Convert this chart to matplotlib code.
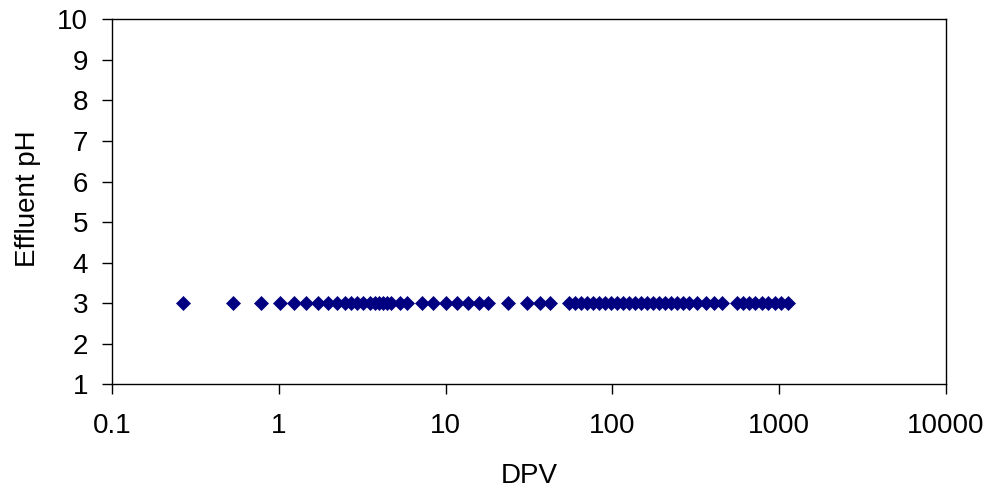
import matplotlib
matplotlib.use("Agg")
import matplotlib.pyplot as plt
from matplotlib.ticker import FixedLocator, NullLocator

plt.rcParams["font.family"] = ["Liberation Sans", "DejaVu Sans"]

# DPV values; every sample sits at effluent pH 3
dpv = [0.265, 0.529, 0.778, 1.02, 1.23, 1.46, 1.71, 1.97, 2.23, 2.48, 2.71, 2.96,
       3.22, 3.53, 3.78, 4.01, 4.24, 4.48, 4.73, 5.34, 5.86, 7.20, 8.45, 10.0,
       11.7, 13.6, 15.9, 18.0, 23.8, 30.6, 36.8, 42.2,
       55.3, 60.1, 65.2, 70.9, 77.0, 83.6, 90.8, 98.6, 107.1, 116.4, 126.4,
       137.3, 149.1, 162.0, 175.9, 191.1, 207.6, 225.4, 244.9, 266.0, 288.9,
       321, 363, 405, 453, 557, 605, 657, 713, 785, 853, 940, 1021, 1125]
ph = [3.0] * len(dpv)

x_ticks = [0.1, 1, 10, 100, 1000, 10000]
x_tick_labels = ["0.1", "1", "10", "100", "1000", "10000"]
y_ticks = list(range(1, 11))

fig = plt.figure(figsize=(9.92, 4.97), dpi=100)
ax = fig.add_axes([0.1129, 0.2264, 0.8407, 0.7348])

ax.plot(dpv, ph, linestyle="none", marker="D", ms=7, color="#000080",
        mec="#000080", mew=0.5)

ax.set_xscale("log")
ax.set_xlim(0.1, 10000)
ax.set_ylim(1, 10)
ax.xaxis.set_major_locator(FixedLocator(x_ticks))
ax.xaxis.set_minor_locator(NullLocator())
ax.set_xticklabels(x_tick_labels)
ax.set_yticks(y_ticks)

ax.tick_params(direction="out", length=7.2, width=1, labelsize=20)
ax.tick_params(axis="x", pad=13)
ax.tick_params(axis="y", pad=10)
for s in ax.spines.values():
    s.set_color("black")
    s.set_linewidth(1)

ax.set_xlabel("DPV", fontsize=20)
ax.set_ylabel("Effluent pH", fontsize=20)
ax.xaxis.set_label_coords(0.5, -0.215)
ax.yaxis.set_label_coords(-0.085, 0.509)

fig.savefig("out.png", dpi=100)
plt.close(fig)
